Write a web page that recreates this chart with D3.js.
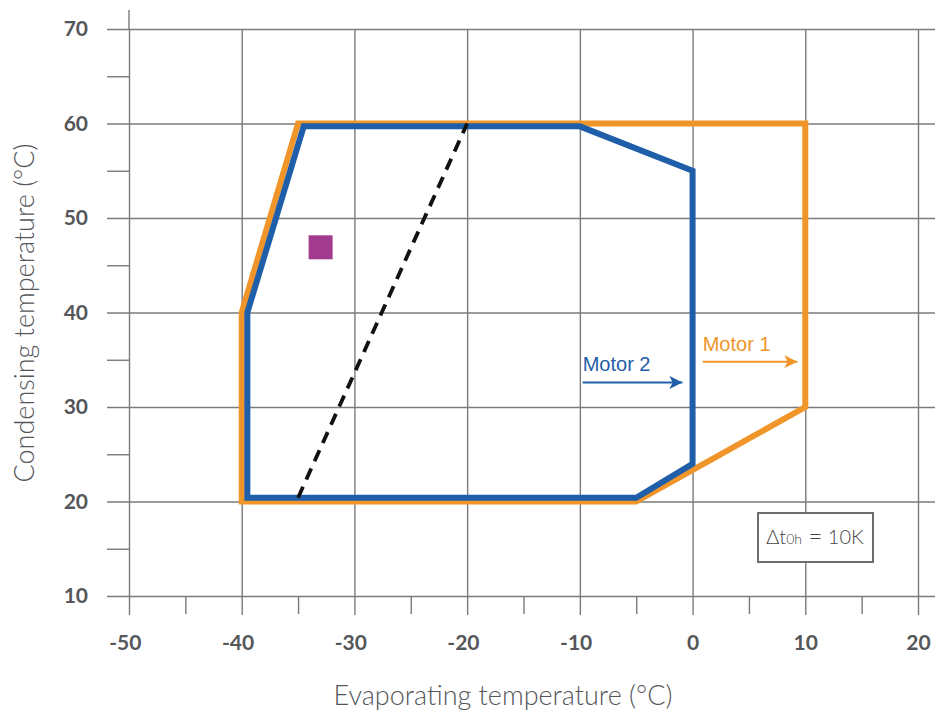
<!DOCTYPE html>
<html>
<head>
<meta charset="utf-8">
<script src="https://cdn.jsdelivr.net/npm/d3@7"></script>
<style>
  body { margin: 0; background: #fff; }
  svg { display: block; }
</style>
</head>
<body>
<svg id="chart"></svg>
<script>
// envelope data (evaporating °C, condensing °C)
const motor1 = [[-35, 60], [10, 60], [10, 30], [-5, 20], [-40, 20], [-40, 40]]
const motor2 = [[-34.5, 59.7], [-10, 59.7], [0, 55], [0, 24], [-5, 20.4], [-39.5, 20.4], [-39.5, 40]]
const dashLine = [[-35, 20.4], [-20, 60]]
const marker = [[-33, 46.9]]

const xTicks = [-50, -40, -30, -20, -10, 0, 10, 20]
const xMinor = [-45, -35, -25, -15, -5, 5, 15]
const yTicks = [10, 20, 30, 40, 50, 60, 70]
const yMinor = [15, 25, 35, 45, 55, 65]

// arrow annotations: label, from, to (data coords)
const arrows = [
    { label: 'Motor 2', from: [-9.75, 32.6], to: [-0.9, 32.6], color: '#1f5ea8' },
    { label: 'Motor 1', from: [0.9, 34.8], to: [9.3, 34.8], color: '#f0952a' }
]

let width = 935
let height = 715

let x = d3.scaleLinear().domain([-50, 20]).range([129, 918])
let y = d3.scaleLinear().domain([10, 70]).range([596, 29])

let gridLeft = 107, gridRight = 935, gridBottom = 615

let svg = d3.select('#chart')
    .attr('width', width)
    .attr('height', height)
    .attr('viewBox', [0, 0, width, height])

let tickFont = g => g
    .attr('font-family', 'Lato, sans-serif')
    .attr('font-weight', 700)
    .attr('font-size', 21)

let plain = d => String(d) // keep ascii hyphen like the original

// horizontal grid + y labels
svg.append('g')
    .attr('transform', `translate(${gridLeft},0)`)
    .call(d3.axisLeft(y).tickValues(yTicks).tickSize(-(gridRight - gridLeft)).tickPadding(19).tickFormat(plain))
    .call(tickFont)
    .call(g => g.select('.domain').remove())
    .call(g => g.selectAll('line').attr('stroke', '#7b7b7b').attr('stroke-width', 1.4))
    .call(g => g.selectAll('text').attr('fill', '#555659'))

svg.append('g')
    .attr('transform', `translate(${gridLeft},0)`)
    .call(d3.axisLeft(y).tickValues(yMinor).tickSize(-(x(-50) - gridLeft)).tickFormat(''))
    .call(g => g.select('.domain').remove())
    .call(g => g.selectAll('line').attr('stroke', '#7b7b7b').attr('stroke-width', 1.4))

// vertical grid + x labels
svg.append('g')
    .attr('transform', `translate(0,${gridBottom})`)
    .call(d3.axisBottom(x).tickValues(xTicks).tickSize(-(gridBottom - y(70))).tickPadding(20).tickFormat(plain))
    .call(tickFont)
    .call(g => g.select('.domain').remove())
    .call(g => g.selectAll('line').attr('stroke', '#7b7b7b').attr('stroke-width', 1.4))
    .call(g => g.selectAll('text').attr('fill', '#555659').attr('dx', d => d < 0 ? '-0.2em' : 0))

svg.append('g')
    .attr('transform', `translate(0,${gridBottom - 1})`)
    .call(d3.axisBottom(x).tickValues(xMinor).tickSize(-(gridBottom - 1 - y(10))).tickFormat(''))
    .call(g => g.select('.domain').remove())
    .call(g => g.selectAll('line').attr('stroke', '#7b7b7b').attr('stroke-width', 1.4))

// left axis line goes a bit higher
svg.append('line')
    .attr('x1', x(-50)).attr('x2', x(-50))
    .attr('y1', 10).attr('y2', y(70))
    .attr('stroke', '#7b7b7b').attr('stroke-width', 1.4)

let line = d3.line().x(d => x(d[0])).y(d => y(d[1]))

svg.append('path')
    .attr('d', line(motor1) + 'Z')
    .attr('fill', 'none')
    .attr('stroke', '#f0952a')
    .attr('stroke-width', 6)

svg.append('path')
    .attr('d', line(motor2) + 'Z')
    .attr('fill', 'none')
    .attr('stroke', '#1f5ea8')
    .attr('stroke-width', 6)

svg.append('path')
    .attr('d', line(dashLine))
    .attr('fill', 'none')
    .attr('stroke', '#111')
    .attr('stroke-width', 3.8)
    .attr('stroke-dasharray', '12,8')

svg.selectAll('rect.marker')
    .data(marker)
    .join('rect')
    .attr('class', 'marker')
    .attr('x', d => x(d[0]) - 12)
    .attr('y', d => y(d[1]) - 12)
    .attr('width', 24)
    .attr('height', 24)
    .attr('fill', '#a23b8e')

// arrows
let defs = svg.append('defs')
arrows.forEach((a, i) => {
    defs.append('marker')
        .attr('id', 'head' + i)
        .attr('viewBox', '0 0 10 10')
        .attr('refX', 10).attr('refY', 5)
        .attr('markerUnits', 'userSpaceOnUse')
        .attr('markerWidth', 16).attr('markerHeight', 13)
        .attr('orient', 'auto')
        .append('path')
        .attr('d', 'M0,0 L10,5 L0,10 L2.5,5 Z')
        .attr('fill', a.color)
})

let ann = svg.selectAll('g.ann')
    .data(arrows)
    .join('g')
    .attr('class', 'ann')

ann.append('line')
    .attr('x1', d => x(d.from[0]))
    .attr('y1', d => y(d.from[1]))
    .attr('x2', d => x(d.to[0]))
    .attr('y2', d => y(d.to[1]))
    .attr('stroke', d => d.color)
    .attr('stroke-width', 2)
    .attr('marker-end', (d, i) => `url(#head${i})`)

ann.append('text')
    .attr('x', d => x(d.from[0]))
    .attr('y', d => y(d.from[1]) - 11)
    .attr('fill', d => d.color)
    .attr('font-family', 'Liberation Sans, Arial, sans-serif')
    .attr('font-size', 20)
    .text(d => d.label)

// Δt box
let box = svg.append('g')
box.append('rect')
    .attr('x', 758).attr('y', 513)
    .attr('width', 115).attr('height', 49)
    .attr('fill', '#fff')
    .attr('stroke', '#6d6d6d')
    .attr('stroke-width', 2)
let bt = box.append('text')
    .attr('x', 815).attr('y', 544)
    .attr('text-anchor', 'middle')
    .attr('font-family', 'Lato, sans-serif')
    .attr('font-weight', 300)
    .attr('font-size', 20)
    .attr('fill', '#444')
bt.append('tspan').text('Δt')
bt.append('tspan').attr('font-size', 14).text('0h')
bt.append('tspan').attr('font-size', 24).attr('dy', 1).text(' =')
bt.append('tspan').attr('dy', -1).text(' 10K')

// axis titles
svg.append('text')
    .attr('x', 503).attr('y', 705)
    .attr('text-anchor', 'middle')
    .attr('font-family', 'Lato, sans-serif')
    .attr('font-weight', 300)
    .attr('font-size', 27)
    .attr('fill', '#555659')
    .text('Evaporating temperature (°C)')

svg.append('text')
    .attr('transform', 'translate(34,313) rotate(-90)')
    .attr('text-anchor', 'middle')
    .attr('font-family', 'Lato, sans-serif')
    .attr('font-weight', 300)
    .attr('font-size', 27)
    .attr('fill', '#555659')
    .text('Condensing temperature (°C)')
</script>
</body>
</html>
